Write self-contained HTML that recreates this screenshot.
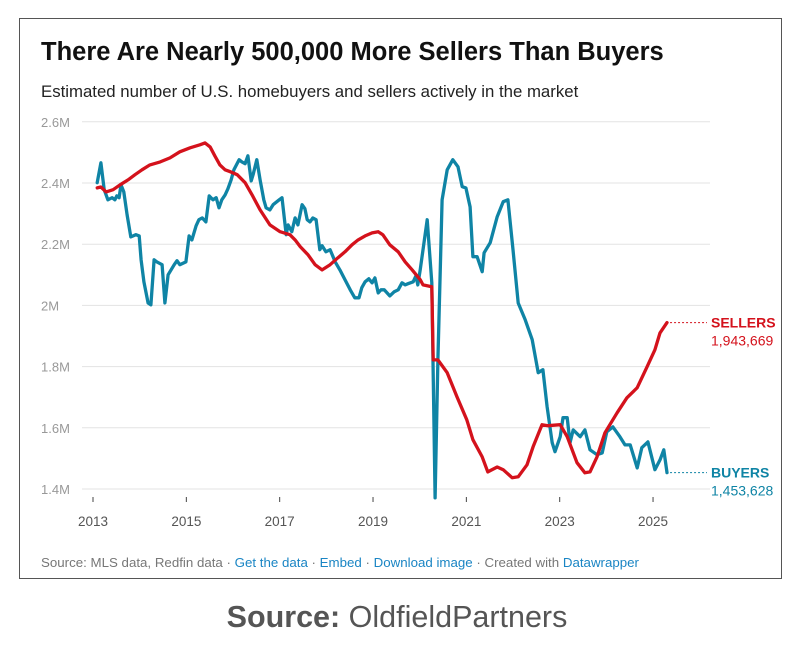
<!DOCTYPE html>
<html><head><meta charset="utf-8"><style>
body{margin:0;background:#fff;width:804px;height:652px;overflow:hidden;font-family:"Liberation Sans",sans-serif}
#frame{position:absolute;left:19px;top:18px;width:763px;height:561px;border:1px solid #555;box-sizing:border-box}
</style></head><body>
<div id="frame"></div>
<svg id="chart" width="804" height="652" style="position:absolute;left:0;top:0">
<text x="41" y="60" font-size="25.5" font-weight="bold" fill="#111">There Are Nearly 500,000 More Sellers Than Buyers</text>
<text x="41" y="97" font-size="16.8" fill="#222">Estimated number of U.S. homebuyers and sellers actively in the market</text>
<g id="grid"></g><g id="xaxis"></g><g id="lines"></g><g id="labels"></g>
<text x="41" y="567" font-size="13.3" fill="#777">Source: MLS data, Redfin data · <tspan fill="#1a85c4">Get the data</tspan> · <tspan fill="#1a85c4">Embed</tspan>  · <tspan fill="#1a85c4">Download image</tspan> · Created with <tspan fill="#1a85c4">Datawrapper</tspan></text>
<text x="397" y="627" font-size="30.5" fill="#555" text-anchor="middle"><tspan font-weight="bold">Source:</tspan> OldfieldPartners</text>
</svg>
<script>
const yTicks=[1400,1600,1800,2000,2200,2400,2600];
const yTickLabels=["1.4M","1.6M","1.8M","2M","2.2M","2.4M","2.6M"];
const xTicks=[2013,2015,2017,2019,2021,2023,2025];
const buyerDates=[2013.09,2013.17,2013.24,2013.32,2013.41,2013.47,2013.51,2013.56,2013.60,2013.66,2013.73,2013.81,2013.92,2013.99,2014.03,2014.09,2014.18,2014.24,2014.31,2014.37,2014.48,2014.54,2014.61,2014.74,2014.80,2014.86,2014.99,2015.06,2015.12,2015.21,2015.27,2015.34,2015.42,2015.49,2015.57,2015.64,2015.70,2015.76,2015.83,2015.89,2015.96,2016.02,2016.13,2016.19,2016.26,2016.32,2016.39,2016.43,2016.51,2016.58,2016.66,2016.71,2016.79,2016.86,2016.99,2017.05,2017.14,2017.18,2017.26,2017.33,2017.39,2017.48,2017.54,2017.59,2017.65,2017.71,2017.78,2017.86,2017.91,2017.99,2018.08,2018.19,2018.29,2018.40,2018.51,2018.61,2018.70,2018.76,2018.83,2018.91,2018.98,2019.04,2019.11,2019.17,2019.24,2019.36,2019.45,2019.54,2019.62,2019.69,2019.75,2019.86,2019.92,2019.96,2020.01,2020.16,2020.26,2020.33,2020.39,2020.48,2020.59,2020.71,2020.82,2020.91,2020.99,2021.08,2021.14,2021.23,2021.34,2021.38,2021.51,2021.66,2021.79,2021.89,2022.00,2022.11,2022.26,2022.41,2022.54,2022.64,2022.73,2022.84,2022.90,2023.01,2023.07,2023.16,2023.22,2023.29,2023.44,2023.54,2023.65,2023.80,2023.91,2024.01,2024.14,2024.29,2024.40,2024.51,2024.66,2024.76,2024.89,2025.04,2025.15,2025.23,2025.30];
const buyerValues=[2401,2466,2378,2345,2352,2345,2358,2352,2394,2371,2296,2224,2231,2227,2149,2077,2008,2002,2149,2142,2133,2008,2100,2133,2146,2133,2142,2227,2214,2260,2280,2286,2273,2358,2345,2352,2319,2345,2361,2381,2410,2443,2476,2469,2463,2489,2407,2427,2476,2410,2345,2319,2312,2329,2345,2352,2231,2263,2241,2286,2263,2329,2316,2280,2273,2286,2280,2182,2195,2175,2182,2142,2116,2084,2051,2025,2025,2058,2077,2087,2074,2090,2041,2051,2051,2031,2044,2051,2074,2067,2071,2077,2097,2067,2116,2280,2074,1371,1822,2345,2443,2476,2453,2388,2384,2322,2159,2159,2110,2172,2205,2290,2339,2345,2182,2008,1953,1888,1780,1790,1669,1551,1522,1571,1633,1633,1551,1593,1571,1593,1528,1512,1518,1587,1603,1571,1544,1544,1469,1535,1554,1463,1495,1528,1453.628];
const sellerDates=[2013.09,2013.17,2013.28,2013.43,2013.58,2013.75,2013.90,2014.05,2014.22,2014.44,2014.65,2014.86,2015.08,2015.29,2015.40,2015.51,2015.61,2015.72,2015.83,2015.94,2016.09,2016.26,2016.41,2016.58,2016.79,2017.01,2017.22,2017.33,2017.44,2017.61,2017.76,2017.91,2018.08,2018.25,2018.40,2018.55,2018.68,2018.83,2018.98,2019.11,2019.21,2019.36,2019.54,2019.69,2019.84,2020.01,2020.07,2020.26,2020.29,2020.39,2020.59,2020.80,2021.01,2021.14,2021.34,2021.46,2021.66,2021.79,2021.98,2022.11,2022.30,2022.43,2022.62,2022.75,2023.01,2023.16,2023.37,2023.54,2023.65,2023.80,2023.97,2024.23,2024.44,2024.66,2024.87,2025.04,2025.15,2025.30];
const sellerValues=[2384,2387,2371,2378,2394,2410,2427,2443,2459,2469,2482,2502,2515,2525,2531,2518,2489,2459,2443,2437,2427,2401,2361,2312,2263,2241,2231,2214,2192,2165,2133,2116,2133,2156,2175,2198,2214,2227,2237,2241,2231,2198,2175,2142,2116,2084,2067,2061,1822,1822,1780,1701,1626,1561,1505,1456,1472,1463,1437,1440,1479,1538,1610,1607,1610,1571,1486,1453,1456,1505,1584,1649,1698,1731,1799,1855,1910,1943.669];

const NS="http://www.w3.org/2000/svg";
const X=d=>93+(d-2013)*46.67;
const Y=v=>489-(v-1400)/200*61.2;
function mk(tag,attrs,parent){const e=document.createElementNS(NS,tag);for(const k in attrs)e.setAttribute(k,attrs[k]);document.getElementById(parent).appendChild(e);return e;}
yTicks.forEach((t,i)=>{
  const l=mk('line',{x1:82,x2:710,y1:Y(t),y2:Y(t),stroke:'#e3e3e3','stroke-width':1},'grid');
  
  
  const tx=mk('text',{x:41,y:Y(t)+5,'font-size':13,fill:'#999'},'grid');
  tx.textContent=yTickLabels[i];
  
  
});
xTicks.forEach(t=>{
  const l=mk('line',{x1:X(t),x2:X(t),y1:497,y2:502,stroke:'#444','stroke-width':1},'xaxis');
  
  
  const tx=mk('text',{x:X(t),y:526,'font-size':13.5,fill:'#555','text-anchor':'middle'},'xaxis');
  tx.textContent=t;
  
  
});
function series(dates,vals,color,name){
  const d=dates.map((t,i)=>(i?'L':'M')+X(t).toFixed(1)+','+Y(vals[i]).toFixed(1)).join('');
  const p=mk('path',{d:d,fill:'none',stroke:color,'stroke-width':3.3,'stroke-linejoin':'round','stroke-linecap':'round'},'lines');
  
  
}
series(buyerDates,buyerValues,'#0f84a5','buyers-line');
series(sellerDates,sellerValues,'#d4121c','sellers-line');
function endLabel(dates,vals,color,title,name){
  const ex=X(dates[dates.length-1]),ey=Y(vals[vals.length-1]);
  const l=mk('line',{x1:ex+3,x2:707,y1:ey,y2:ey,stroke:color,'stroke-width':1,'stroke-dasharray':'2,2'},'labels');
  
  
  const t1=mk('text',{x:711,y:ey+5,'font-size':14,'font-weight':'bold',fill:color},'labels');
  t1.textContent=title;
  
  
  const t2=mk('text',{x:711,y:ey+23,'font-size':14,fill:color},'labels');
  t2.textContent=Math.round(vals[vals.length-1]*1000).toLocaleString('en-US');
  
  
}
endLabel(sellerDates,sellerValues,'#d4121c','SELLERS','sellers');
endLabel(buyerDates,buyerValues,'#0f84a5','BUYERS','buyers');
</script>
</body></html>
